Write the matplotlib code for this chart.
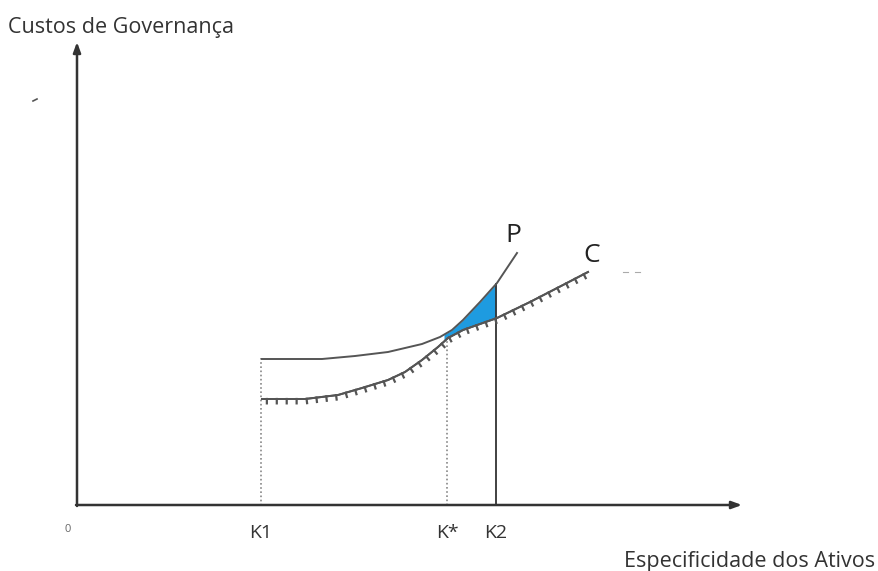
import numpy as np
import matplotlib
matplotlib.use("Agg")
import matplotlib.pyplot as plt
import matplotlib.patheffects as pe

# Conceptual diagram values (pixel-like coordinates, y grows downward)
p_x = [262, 290, 322, 355, 388, 405, 422, 440, 452, 463, 480, 497, 507, 517]
p_y = [359, 359, 359, 356, 352, 348, 344, 337, 330, 320, 302, 283, 268, 253]
c_x = [262, 305, 338, 362, 388, 405, 422, 438, 448, 463, 480, 497, 530, 563, 588]
c_y = [399, 399, 395, 388, 380, 372, 360, 347, 338, 330, 324, 318, 302, 285, 272]
k_labels = ["K1", "K*", "K2"]
k_pos = [261, 447, 496]
k_top = [358, 337, 284]
axis_origin = (77, 505)

fig = plt.figure(figsize=(8.79, 5.71), dpi=100)
ax = fig.add_axes([0, 0, 1, 1])
ax.set_xlim(0, 879)
ax.set_ylim(571, 0)
ax.axis("off")

line_col = "#555555"
text_col = "#333333"
font = "Open Sans"

# axes arrows
ax.annotate("", xy=(axis_origin[0], 42), xytext=(axis_origin[0], axis_origin[1] + 1),
            arrowprops=dict(arrowstyle="-|>,head_length=0.6,head_width=0.22", color="#333333", lw=1.8, shrinkA=0, shrinkB=0))
ax.annotate("", xy=(742, axis_origin[1]), xytext=(axis_origin[0] - 1, axis_origin[1]),
            arrowprops=dict(arrowstyle="-|>,head_length=0.6,head_width=0.22", color="#333333", lw=1.8, shrinkA=0, shrinkB=0))

# verticals
ax.plot([k_pos[0], k_pos[0]], [k_top[0], axis_origin[1]], color="#888888", lw=1.2, ls=(0, (1, 1.5)))
ax.plot([k_pos[1], k_pos[1]], [k_top[1], axis_origin[1]], color="#888888", lw=1.2, ls=(0, (1, 1.5)))
ax.plot([k_pos[2], k_pos[2]], [k_top[2], axis_origin[1]], color="#333333", lw=1.3)

# shaded area between P and C from K* to K2
xs = np.linspace(k_pos[1] - 3, k_pos[2], 60)
ax.fill_between(xs, np.interp(xs, p_x, p_y), np.interp(xs, c_x, c_y), color="#1e9be0", lw=0)

# curves
ax.plot(p_x, p_y, color=line_col, lw=1.4)
ax.plot(c_x, c_y, color=line_col, lw=1.4,
        path_effects=[pe.Stroke(),
                      pe.withTickedStroke(angle=-90, spacing=7, length=0.45, linewidth=1.6, foreground=line_col)])

# labels
ax.text(8, 27, "Custos de Governança", fontsize=15.5, color=text_col, family=font, va="center", ha="left")
ax.text(875, 561, "Especificidade dos Ativos", fontsize=15.5, color=text_col, family=font, va="center", ha="right")
ax.text(68, 529, "0", fontsize=8, color="#666666", family=font, va="center", ha="center")
for lab, x in zip(k_labels, k_pos):
    ax.text(x, 533, lab, fontsize=14, color=text_col, family=font, va="center", ha="center")
ax.text(513, 235, "P", fontsize=19, color="#222222", family=font, va="center", ha="center")
ax.text(592, 256, "C", fontsize=19, color="#222222", family=font, va="center", ha="center")
ax.plot([623, 628], [272, 272], color="#aaaaaa", lw=0.8)
ax.plot([635, 640], [272, 272], color="#aaaaaa", lw=0.8)
ax.plot([33, 37], [101, 99], color="#555555", lw=1.2)

fig.savefig("out.png", dpi=100)
